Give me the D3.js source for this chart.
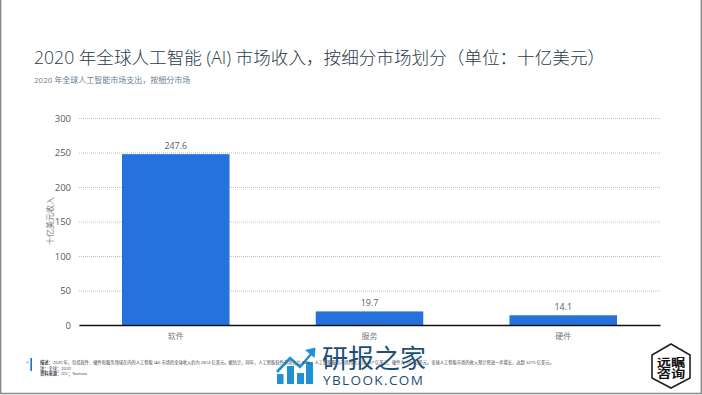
<!DOCTYPE html>
<html>
<head>
<meta charset="utf-8">
<script src="https://cdn.jsdelivr.net/npm/d3@7"></script>
<style>
  html, body { margin: 0; padding: 0; background: #fff; }
  svg { display: block; }
  text { font-family: "Open Sans", "Noto Sans CJK SC", sans-serif; }
</style>
</head>
<body>
<svg id="chart" width="702" height="395"></svg>
<script>
// 数据
const categories = ["软件", "服务", "硬件"];
const revenue = [247.6, 19.7, 14.1];
const yTicks = [0, 50, 100, 150, 200, 250, 300];

const titleText = "2020 年全球人工智能 (AI) 市场收入，按细分市场划分（单位：十亿美元）";
const subtitleText = "2020 年全球人工智能市场支出，按细分市场";
const yLabel = "十亿美元收入";
const noteLines = [
    ["描述：", "2020 年，包括软件、硬件和服务领域在内的人工智能 (AI) 市场的全球收入约为 2814 亿美元。据估计，同年，人工智能软件市场占比 88%，人工智能服务市场的收入为 197 亿美元，硬件为 141 亿美元。全球人工智能市场的收入预计将进一步增长，达到 3275 亿美元。"],
    ["注：", "全球；2020"],
    ["资料来源：", "IDC；Statista"]
];

const svg = d3.select("#chart");
const margin = { top: 118, right: 42, bottom: 70, left: 79 };
const width = +svg.attr("width") - margin.left - margin.right;
const height = +svg.attr("height") - margin.top - margin.bottom;

// 页面边框
svg.append("rect").attr("width", 702).attr("height", 395).attr("fill", "#fff");
svg.append("path")
    .attr("d", "M0.7,0V393.5H701.3V0")
    .attr("fill", "none")
    .attr("stroke", "#8a8a8a")
    .attr("stroke-width", 1.4);

// 标题
svg.append("text")
    .attr("x", 34).attr("y", 64)
    .attr("fill", "#2b3a48")
    .style("font-size", "17.6px")
    .style("font-weight", 300)
    .text(titleText);
svg.append("text")
    .attr("x", 34).attr("y", 83)
    .attr("fill", "#6b8096")
    .style("font-size", "8px")
    .text(subtitleText);

const g = svg.append("g").attr("transform", `translate(${margin.left},${margin.top})`);

// 比例尺
const xScale = d3.scaleBand()
    .domain(categories)
    .range([0, width])
    .paddingInner(0.445)
    .paddingOuter(0.222);
const yScale = d3.scaleLinear().domain([0, 300]).range([height, 0]);

// Y 轴和网格线
const yAxis = g.append("g")
    .call(d3.axisLeft(yScale).tickValues(yTicks).tickSize(-width).tickPadding(8));
yAxis.select(".domain").remove();
yAxis.selectAll(".tick line")
    .attr("stroke", "#bdbdbd")
    .attr("stroke-dasharray", "1,1");
yAxis.selectAll(".tick text")
    .attr("fill", "#555b61")
    .style("font-family", "'Open Sans', sans-serif")
    .style("font-size", "9.5px");

// 柱子
g.selectAll(".bar")
    .data(revenue)
    .enter()
    .append("rect")
    .attr("class", "bar")
    .attr("x", (d, i) => xScale(categories[i]))
    .attr("y", d => yScale(d))
    .attr("width", xScale.bandwidth())
    .attr("height", d => height - yScale(d))
    .attr("fill", "#2672dc");

// 数值标签
g.selectAll(".value")
    .data(revenue)
    .enter()
    .append("text")
    .attr("class", "value")
    .attr("x", (d, i) => xScale(categories[i]) + xScale.bandwidth() / 2)
    .attr("y", d => yScale(d) - 5)
    .attr("text-anchor", "middle")
    .attr("fill", "#555b61")
    .style("font-family", "'Open Sans', sans-serif")
    .style("font-size", "8.8px")
    .text(d => d.toFixed(1));

// X 轴
const xAxis = g.append("g")
    .attr("transform", `translate(0,${height})`)
    .call(d3.axisBottom(xScale).tickSize(0).tickPadding(8));
xAxis.select(".domain").attr("stroke", "#111").attr("stroke-width", 1.5);
xAxis.selectAll(".tick text")
    .attr("fill", "#7a7a7a")
    .style("font-family", "'Noto Sans CJK SC'")
    .style("font-size", "8px");

// Y 轴标题
svg.append("text")
    .attr("transform", "translate(53,221) rotate(-90)")
    .attr("text-anchor", "middle")
    .attr("fill", "#7a7a7a")
    .style("font-size", "8px")
    .text(yLabel);

// 水印图标
const mark = svg.append("g").attr("fill", "#1f93d2");
[[277, 374, 6.5], [287, 366, 7], [297, 373, 7], [306, 362, 7]].forEach(b => {
    mark.append("rect").attr("x", b[0]).attr("y", b[1]).attr("width", b[2]).attr("height", 384 - b[1]);
});
mark.append("path")
    .attr("d", "M277,372L290,358L300,367L312,353")
    .attr("fill", "none")
    .attr("stroke", "#1f93d2")
    .attr("stroke-width", 2.6);
mark.append("path").attr("d", "M305,350L315.5,347.5L314.5,358Z");

svg.append("text")
    .attr("x", 322).attr("y", 368)
    .attr("fill", "#1c4f78")
    .style("font-family", "'Noto Sans CJK SC'")
    .style("font-size", "26px")
    .text("研报之家");
svg.append("text")
    .attr("x", 323).attr("y", 384.5)
    .attr("fill", "#1c4f78")
    .style("font-family", "'Open Sans', sans-serif")
    .style("font-size", "13.5px")
    .style("letter-spacing", "1.4px")
    .text("YBLOOK.COM");

// 脚注
svg.append("text").attr("x", 26).attr("y", 364)
    .attr("fill", "#2672dc").style("font-size", "4px").text("9");
svg.append("rect").attr("x", 30.4).attr("y", 358).attr("width", 1.6).attr("height", 13).attr("fill", "#1f6fd0");
const noteY = [364, 369.5, 375];
noteLines.forEach((row, i) => {
    const t = svg.append("text")
        .attr("x", 40).attr("y", noteY[i])
        .attr("fill", "#3d4650")
        .style("font-size", "4.25px");
    t.append("tspan").style("font-weight", 700).text(row[0]);
    t.append("tspan").text(row[1]);
});

// 右下角标志
svg.append("path")
    .attr("d", "M671,344L690,355V378L671,388L652,378V355Z")
    .attr("fill", "#fff")
    .attr("stroke", "#222")
    .attr("stroke-width", 1.6);
["远瞩", "咨询"].forEach((s, i) => {
    svg.append("text")
        .attr("transform", `translate(671,${366.5 + i * 11}) scale(1.3,1)`)
        .attr("text-anchor", "middle")
        .attr("fill", "#111")
        .style("font-family", "'Noto Sans CJK SC'")
        .style("font-size", "11px")
        .style("font-weight", 700)
        .text(s);
});
</script>
</body>
</html>
